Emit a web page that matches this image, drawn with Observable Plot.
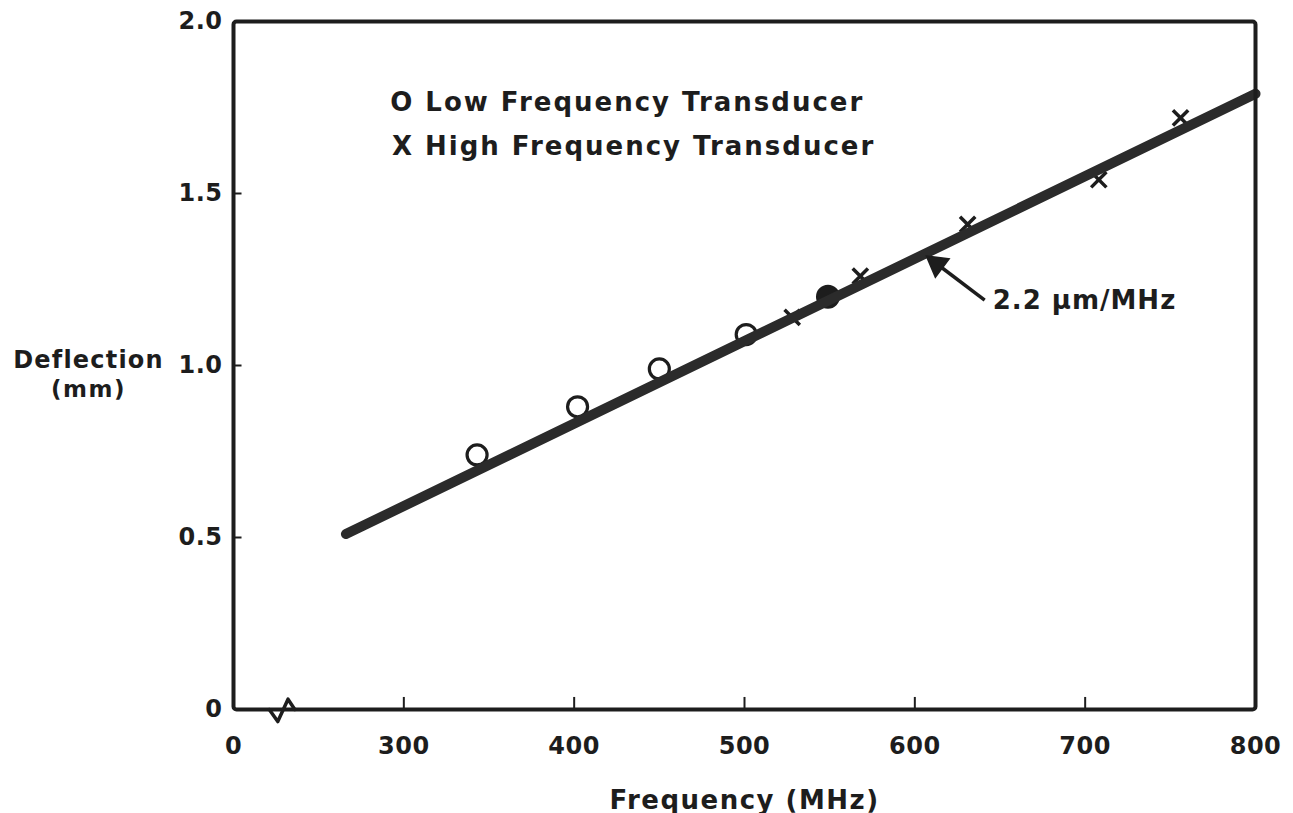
<!DOCTYPE html>
<html>
<head>
<meta charset="utf-8">
<script src="https://cdn.jsdelivr.net/npm/d3@7"></script>
<script src="https://cdn.jsdelivr.net/npm/@observablehq/plot@0.6"></script>
<style>
  html, body { margin: 0; padding: 0; background: #fff; }
  #chart svg { display: block; }
</style>
</head>
<body>
<div id="chart"></div>
<script>
// ---- data ----
// x axis is broken: the left edge ("0") stands at 200 MHz on the linear part
const freqTicks = [200, 300, 400, 500, 600, 700, 800];
const freqTickLabels = ["0", "300", "400", "500", "600", "700", "800"];
const defTicks = [0, 0.5, 1.0, 1.5, 2.0];
const defTickLabels = ["0", "0.5", "1.0", "1.5", "2.0"];

// Low frequency transducer (open circles)
const lowFreqF = [343, 402, 450, 501];
const lowFreqD = [0.74, 0.88, 0.99, 1.09];
// point drawn filled (overlapping) at 550 MHz
const overlapF = [549];
const overlapD = [1.20];

// High frequency transducer (crosses)
const highFreqF = [528, 568, 631, 708, 756];
const highFreqD = [1.14, 1.26, 1.41, 1.54, 1.72];

// Fitted line, 2.2 um/MHz
const fitF = [266, 800];
const fitD = [0.51, 1.79];

// axis-break squiggle on the frequency axis
const breakF = [221, 226, 232, 236];
const breakD = [0, -0.035, 0.03, 0];

// annotation
const slopeLabel = "2.2 µm/MHz";
const arrowFrom = {f: 641, d: 1.19};
const arrowTo = {f: 613, d: 1.295};
const legendLabels = ["O Low Frequency Transducer", "X High Frequency Transducer"];
const legendF = [292, 293];
const legendD = [1.765, 1.635];

// ---- build ----
const ink = "#1d1d1d";
const font = "DejaVu Sans, Liberation Sans, sans-serif";
const zip = (xs, ys) => xs.map((x, i) => ({f: x, d: ys[i]}));
const low = zip(lowFreqF, lowFreqD);
const overlap = zip(overlapF, overlapD);
const high = zip(highFreqF, highFreqD);
const fit = zip(fitF, fitD);
const brk = zip(breakF, breakD);
const legend = legendLabels.map((t, i) => ({t, f: legendF[i], d: legendD[i]}));

const svg = Plot.plot({
  width: 1293,
  height: 813,
  marginLeft: 233,
  marginRight: 38,
  marginTop: 21,
  marginBottom: 104,
  style: {fontFamily: font, background: "#fff", color: ink, overflow: "visible"},
  x: {domain: [200, 800], axis: null},
  y: {domain: [0, 2], axis: null},
  marks: [
    // inner tick marks
    Plot.ruleX(freqTicks.slice(1, -1), {x: d => d, y1: 0, y2: 0.035, stroke: ink, strokeWidth: 2}),
    Plot.ruleY(defTicks.slice(1, -1), {y: d => d, x1: 200, x2: 205, stroke: ink, strokeWidth: 2}),
    // tick labels
    Plot.text(freqTicks, {x: d => d, y: 0, dy: 37, text: (d, i) => freqTickLabels[i],
      fontSize: 24, fontWeight: "bold", fill: ink, lineAnchor: "middle"}),
    Plot.text(defTicks, {x: 200, y: d => d, dx: -11, text: (d, i) => defTickLabels[i],
      fontSize: 24, fontWeight: "bold", fill: ink, textAnchor: "end", lineAnchor: "middle"}),
    // axis titles
    Plot.text(["Deflection"], {x: 200, y: 1.0, dx: -145, dy: -5, text: d => d,
      fontSize: 24, fontWeight: "bold", fill: ink, lineAnchor: "middle"}),
    Plot.text(["(mm)"], {x: 200, y: 1.0, dx: -145, dy: 24, text: d => d,
      fontSize: 23, fontWeight: "bold", fill: ink, lineAnchor: "middle"}),
    Plot.text(["Frequency (MHz)"], {x: 500, y: 0, dy: 91, text: d => d,
      fontSize: 26, fontWeight: "bold", fill: ink, lineAnchor: "middle"}),
    // data points
    Plot.dot(low, {x: "f", y: "d", r: 10, stroke: ink, strokeWidth: 3.2, fill: "none"}),
    Plot.dot(overlap, {x: "f", y: "d", r: 11, stroke: ink, strokeWidth: 2, fill: ink}),
    Plot.dot(high, {x: "f", y: "d", r: 7, symbol: "times", stroke: ink, strokeWidth: 3.5}),
    // fitted line
    Plot.line(fit, {x: "f", y: "d", stroke: "#2b2b2b", strokeWidth: 10, strokeLinecap: "round"}),
    // frame and axis break
    Plot.frame({stroke: ink, strokeWidth: 4, rx: 3}),
    Plot.line(brk, {x: "f", y: "d", stroke: ink, strokeWidth: 3.5, clip: false}),
    // slope annotation: shaft plus a filled head
    Plot.link([0], {x1: () => arrowFrom.f, y1: () => arrowFrom.d, x2: () => arrowTo.f, y2: () => arrowTo.d,
      stroke: ink, strokeWidth: 3.5}),
    Plot.dot([0], {x: () => arrowTo.f, y: () => arrowTo.d, symbol: "triangle", r: 8.5,
      rotate: -53, fill: ink, stroke: ink, strokeWidth: 1.5}),
    Plot.text([slopeLabel], {x: arrowFrom.f, y: arrowFrom.d, dx: 8, dy: 1, text: d => d,
      fontSize: 26, fontWeight: "bold", fill: ink, textAnchor: "start", lineAnchor: "middle"}),
    // legend inside the plot
    Plot.text(legend, {x: "f", y: "d", text: "t", fontSize: 26, fontWeight: "bold", fill: ink,
      textAnchor: "start", lineAnchor: "middle"})
  ]
});

// letter spacing to match the lettering of the original
d3.select(svg).selectAll("text").each(function () {
  const t = this.textContent;
  let ls = 0;
  if (t.includes("Transducer")) ls = 2;
  else if (t.startsWith("Frequency")) ls = 1.5;
  else if (t === "Deflection") ls = 1.2;
  else if (t === "(mm)") ls = 1.5;
  else if (t === slopeLabel) ls = 1;
  else ls = 0.5;
  d3.select(this).attr("letter-spacing", ls);
});

document.getElementById("chart").appendChild(svg);
</script>
</body>
</html>
